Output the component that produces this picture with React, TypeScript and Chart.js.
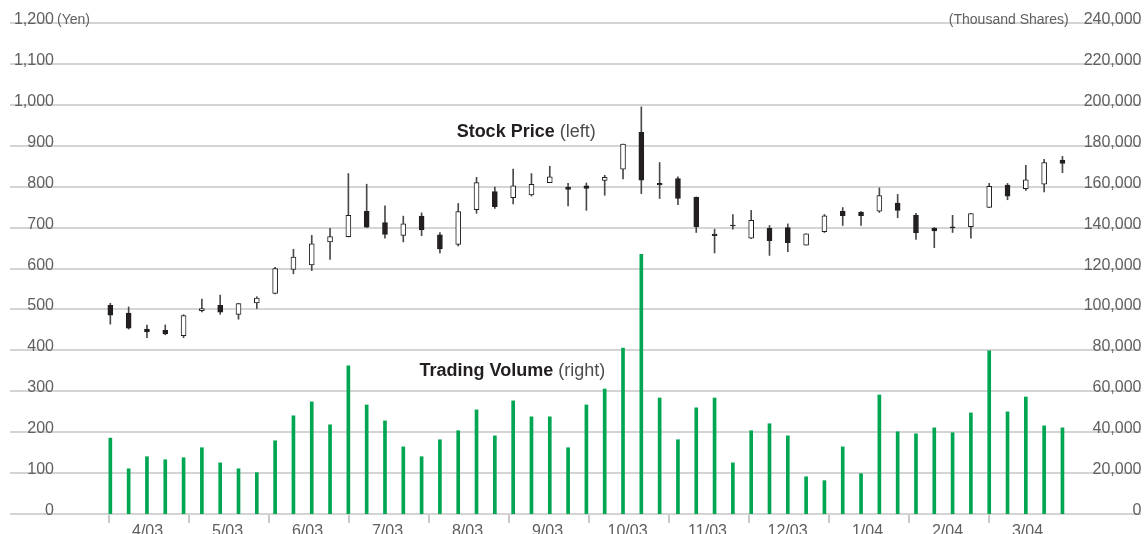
import { useEffect, useRef } from "react";
import { Chart, registerables } from "chart.js";

Chart.register(...registerables);

// ---- data (weekly, April 2003 – March 2004) ----
const monthLabels = ["4/03", "5/03", "6/03", "7/03", "8/03", "9/03", "10/03", "11/03", "12/03", "1/04", "2/04", "3/04"];

const priceTicks = [0, 100, 200, 300, 400, 500, 600, 700, 800, 900, 1000, 1100, 1200];
const volumeTicks = [0, 20000, 40000, 60000, 80000, 100000, 120000, 140000, 160000, 180000, 200000, 220000, 240000];

const openP = [510, 491, 452, 449, 436, 497, 510, 488, 516, 539, 598, 609, 665, 678, 740, 712, 681, 728, 682, 659, 744, 788, 773, 780, 810, 799, 802, 815, 843, 933, 808, 820, 774, 684, 706, 674, 698, 700, 657, 690, 740, 738, 740, 760, 730, 699, 702, 702, 749, 804, 795, 806, 865];
const highP = [515, 506, 462, 462, 487, 525, 535, 515, 531, 603, 647, 681, 698, 832, 806, 753, 728, 736, 688, 759, 823, 799, 843, 832, 850, 808, 809, 828, 904, 995, 859, 824, 775, 696, 732, 742, 705, 709, 685, 732, 749, 739, 797, 781, 735, 700, 730, 734, 808, 808, 852, 867, 874];
const lowP = [464, 452, 431, 438, 431, 494, 488, 476, 502, 538, 587, 595, 622, 677, 700, 674, 665, 680, 638, 655, 735, 747, 758, 777, 810, 753, 742, 779, 819, 783, 771, 756, 688, 638, 696, 673, 632, 641, 657, 688, 705, 705, 737, 724, 671, 651, 688, 674, 749, 768, 791, 787, 834];
const closeP = [486, 454, 445, 440, 485, 502, 493, 514, 528, 600, 628, 660, 678, 730, 701, 683, 709, 694, 648, 739, 810, 751, 802, 806, 824, 793, 796, 823, 904, 816, 804, 771, 702, 680, 704, 718, 668, 663, 685, 729, 729, 729, 778, 742, 687, 692, 699, 734, 801, 777, 817, 859, 857];
const volume = [37100, 22100, 28000, 26500, 27500, 32400, 25000, 22100, 20200, 35800, 48000, 54800, 43600, 72400, 53300, 45500, 32800, 28000, 36300, 40700, 50900, 38200, 55300, 47500, 47500, 32400, 53300, 61100, 81100, 126900, 56700, 36300, 51900, 56700, 25000, 40700, 44100, 38200, 18200, 16300, 32800, 19700, 58200, 40200, 39200, 42100, 39700, 49400, 79700, 49900, 57200, 43100, 42100];

// ---- axis configuration ----
const PRICE_MAX = 1200;
const VOLUME_MAX = 240000;
const X_MIN = -5.48;
const X_MAX = 56.29;
const MONTH_START = -0.07;
const WEEKS_PER_MONTH = 4.369;

const FONT = '"Liberation Sans", Arial, Helvetica, sans-serif';
const LABEL_COLOR = "#5f6062";
const DARK = "#231f20";

const fmt = (v: number) => v.toLocaleString("en-US");

function drawMixed(ctx: CanvasRenderingContext2D, cx: number, baseline: number, bold: string, regular: string) {
  ctx.font = `bold 18px ${FONT}`;
  const wb = ctx.measureText(bold).width;
  ctx.font = `18px ${FONT}`;
  const wr = ctx.measureText(" " + regular).width;
  const start = cx - (wb + wr) / 2;
  ctx.textAlign = "left";
  ctx.font = `bold 18px ${FONT}`;
  ctx.fillStyle = DARK;
  ctx.fillText(bold, start, baseline);
  ctx.font = `18px ${FONT}`;
  ctx.fillStyle = "#4d4d4f";
  ctx.fillText(" " + regular, start + wb, baseline);
}

const axisTextPlugin = {
  id: "axisText",
  afterDraw(chart: any) {
    const { ctx, chartArea, scales } = chart;
    const sx = scales.x;
    const sy = scales.y;
    const sv = scales.y1;
    ctx.save();
    ctx.textBaseline = "alphabetic";

    // month tick marks and labels
    monthLabels.forEach((lab, k) => {
      const b = MONTH_START + k * WEEKS_PER_MONTH;
      const px = Math.round(sx.getPixelForValue(b));
      ctx.strokeStyle = "#c8c8c8";
      ctx.lineWidth = 2;
      ctx.beginPath();
      ctx.moveTo(px, chartArea.bottom + 1);
      ctx.lineTo(px, chartArea.bottom + 9);
      ctx.stroke();
      ctx.fillStyle = LABEL_COLOR;
      ctx.font = `16px ${FONT}`;
      ctx.textAlign = "center";
      ctx.fillText(lab, sx.getPixelForValue(b + WEEKS_PER_MONTH / 2) - 1.5, chartArea.bottom + 21.5);
    });

    // left (price) labels
    priceTicks.forEach((v, i) => {
      const py = sy.getPixelForValue(v) + 1;
      const xr = chartArea.left + 44;
      ctx.fillStyle = LABEL_COLOR;
      ctx.font = `16px ${FONT}`;
      ctx.textAlign = "right";
      ctx.fillText(fmt(v), xr, py);
      if (i === priceTicks.length - 1) {
        ctx.font = `14px ${FONT}`;
        ctx.textAlign = "left";
        ctx.fillText("(Yen)", xr + 3, py);
      }
    });

    // right (volume) labels
    volumeTicks.forEach((v, i) => {
      const py = sv.getPixelForValue(v) + 1;
      const xr = chartArea.right + 0.5;
      ctx.fillStyle = LABEL_COLOR;
      ctx.font = `16px ${FONT}`;
      ctx.textAlign = "right";
      const label = fmt(v);
      const w = ctx.measureText(label).width;
      ctx.fillText(label, xr, py);
      if (i === volumeTicks.length - 1) {
        ctx.font = `14px ${FONT}`;
        ctx.fillText("(Thousand Shares)", xr - w - 15, py);
      }
    });

    // series titles
    drawMixed(ctx, sx.getPixelForValue(22.71), sy.getPixelForValue(921), "Stock Price", "(left)");
    drawMixed(ctx, sx.getPixelForValue(21.96), sv.getPixelForValue(67500), "Trading Volume", "(right)");

    ctx.restore();
  },
};

export default function App() {
  const ref = useRef<HTMLCanvasElement>(null);

  useEffect(() => {
    document.body.style.margin = "0";
    const canvas = ref.current;
    if (!canvas) return;
    const weeks = volume.map((_, i) => i);

    const chart = new Chart(canvas, {
      type: "bar",
      data: {
        datasets: [
          {
            label: "Body",
            data: weeks.map((i) => ({ x: i, y: [openP[i], closeP[i]] })) as any,
            backgroundColor: weeks.map((i) => (closeP[i] >= openP[i] ? "#ffffff" : DARK)),
            borderColor: DARK,
            borderWidth: 1,
            borderSkipped: false,
            barThickness: 5,
            grouped: false,
            yAxisID: "y",
            order: 0,
          } as any,
          {
            label: "Wick",
            data: weeks.map((i) => ({ x: i, y: [lowP[i], highP[i]] })) as any,
            backgroundColor: "#4a4a4a",
            barThickness: 1,
            grouped: false,
            yAxisID: "y",
            order: 1,
          } as any,
          {
            label: "Trading Volume",
            data: weeks.map((i) => ({ x: i, y: volume[i] })) as any,
            backgroundColor: "#00a651",
            barThickness: 3,
            grouped: false,
            yAxisID: "y1",
            order: 2,
          } as any,
        ],
      },
      options: {
        animation: false,
        responsive: false,
        events: [],
        layout: { padding: { left: 10, right: 4, top: 23, bottom: 20 } },
        plugins: {
          legend: { display: false },
          tooltip: { enabled: false },
          title: { display: false },
        },
        scales: {
          x: {
            type: "linear",
            min: X_MIN,
            max: X_MAX,
            offset: false,
            grace: 0,
            bounds: "ticks",
            display: false,
            grid: { offset: false },
          },
          y: {
            type: "linear",
            position: "left",
            min: 0,
            max: PRICE_MAX,
            afterBuildTicks: (s: any) => {
              s.ticks = priceTicks.map((v) => ({ value: v }));
            },
            ticks: { display: false },
            grid: { color: "#d4d4d4", lineWidth: 2, drawTicks: false },
            border: { display: false },
          },
          y1: { type: "linear", position: "right", min: 0, max: VOLUME_MAX, display: false },
        },
      } as any,
      plugins: [axisTextPlugin],
    });

    return () => chart.destroy();
  }, []);

  return (
    <div style={{ position: "fixed", left: 0, top: 0, width: 1145, height: 534, background: "#fff" }}>
      <canvas ref={ref} width={1145} height={534} style={{ display: "block" }} />
    </div>
  );
}
